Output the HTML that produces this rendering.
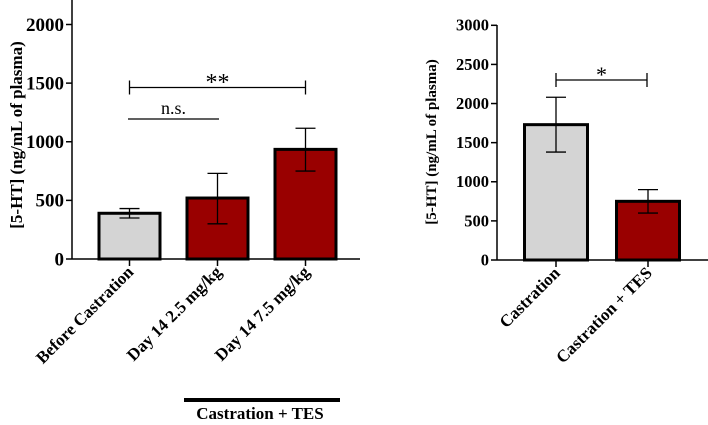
<!DOCTYPE html>
<html><head><meta charset="utf-8"><style>
body{margin:0;background:#fff}
svg{display:block;font-family:"Liberation Serif",serif}
</style></head><body>
<svg id="c" width="708" height="425" viewBox="0 0 708 425"></svg>
<script>
const leftCats=["Before Castration","Day 14 2.5 mg/kg","Day 14 7.5 mg/kg"];
const leftVals=[390,520,935];
const leftLo=[350,300,750];
const leftHi=[430,730,1115];
const leftColors=["#d4d4d4","#990000","#990000"];
const leftTicks=[0,500,1000,1500,2000];
const rightCats=["Castration","Castration + TES"];
const rightVals=[1730,750];
const rightLo=[1380,600];
const rightHi=[2080,900];
const rightColors=["#d4d4d4","#990000"];
const rightTicks=[0,500,1000,1500,2000,2500,3000];
const NS="http://www.w3.org/2000/svg";
const svg=document.getElementById('c');
function mk(t,a,p){const e=document.createElementNS(NS,t);for(const k in a)e.setAttribute(k,a[k]);(p||svg).appendChild(e);return e;}
function panel(o){
  const g=mk('g',{});
  
  
  const y=v=>o.y0-(v/o.max)*(o.y0-o.yTop);
  mk('line',{x1:o.ax,y1:o.axTop,x2:o.ax,y2:o.y0,stroke:'#000','stroke-width':1.5},g);
  mk('line',{x1:o.ax,y1:o.y0,x2:o.axEnd,y2:o.y0,stroke:'#000','stroke-width':1.5},g);
  o.ticks.forEach(t=>{
    mk('line',{x1:o.ax-6,y1:y(t),x2:o.ax,y2:y(t),stroke:'#000','stroke-width':1.5},g);
    const tx=mk('text',{x:o.ax-8,y:y(t)+o.fs*0.33,'text-anchor':'end','font-size':o.fs,'font-weight':'bold'},g);
    tx.textContent=t;
    
    
  });
  const yt=mk('text',{transform:`translate(${o.titleX},${o.titleY}) rotate(-90)`,'text-anchor':'middle','font-size':o.tfs,'font-weight':'bold'},g);
  yt.textContent='[5-HT] (ng/mL of plasma)';
  
  
  o.cats.forEach((c,i)=>{
    const cx=o.cx0+i*o.step;
    const r=mk('rect',{x:cx-o.bw/2,y:y(o.vals[i]),width:o.bw,height:o.y0-y(o.vals[i]),fill:o.colors[i],stroke:'#000','stroke-width':3},g);
    
    
    mk('line',{x1:cx,y1:y(o.hi[i]),x2:cx,y2:y(o.lo[i]),stroke:'#000','stroke-width':1.3},g);
    [o.hi[i],o.lo[i]].forEach(v=>mk('line',{x1:cx-10,y1:y(v),x2:cx+10,y2:y(v),stroke:'#000','stroke-width':1.3},g));
    mk('line',{x1:cx,y1:o.y0,x2:cx,y2:o.y0+7,stroke:'#000','stroke-width':1.5},g);
    const lt=mk('text',{transform:`translate(${cx+5},${o.y0+14}) rotate(-45)`,'text-anchor':'end','font-size':o.lfs,'font-weight':'bold'},g);
    lt.textContent=c;
    
    
  });
  return {g,y};
}
const L=panel({name:'left-chart',ax:72,axTop:0,axEnd:360,y0:259,yTop:24.5,max:2000,ticks:leftTicks,cats:leftCats,vals:leftVals,lo:leftLo,hi:leftHi,colors:leftColors,cx0:129.5,step:88,bw:61,fs:19,tfs:17,lfs:17,titleX:22,titleY:135});
const R=panel({name:'right-chart',ax:497,axTop:25,axEnd:708,y0:260,yTop:25.3,max:3000,ticks:rightTicks,cats:rightCats,vals:rightVals,lo:rightLo,hi:rightHi,colors:rightColors,cx0:556,step:92,bw:63,fs:16.5,tfs:15,lfs:17,titleX:436,titleY:142});
function bracket(g,x1,x2,yy,ticks,label,ly,fs){
  mk('line',{x1,y1:yy,x2,y2:yy,stroke:'#000','stroke-width':1.3},g);
  if(ticks){mk('line',{x1,y1:yy-7,x2:x1,y2:yy+7,stroke:'#000','stroke-width':1.3},g);mk('line',{x1:x2,y1:yy-7,x2:x2,y2:yy+7,stroke:'#000','stroke-width':1.3},g);}
  const t=mk('text',{x:(x1+x2)/2,y:ly,'text-anchor':'middle','font-size':fs},g);
  t.textContent=label;
  
  
}
bracket(L.g,129.5,305.5,87.5,true,'**',90,24);
bracket(L.g,128,219,119,false,'n.s.',114,18);
bracket(R.g,556,647,80,true,'*',82,22);
const gb=mk('line',{x1:184,y1:400,x2:340,y2:400,stroke:'#000','stroke-width':4});


const gt=mk('text',{x:260,y:419,'text-anchor':'middle','font-size':17,'font-weight':'bold'});
gt.textContent='Castration + TES';


</script>
</body></html>
